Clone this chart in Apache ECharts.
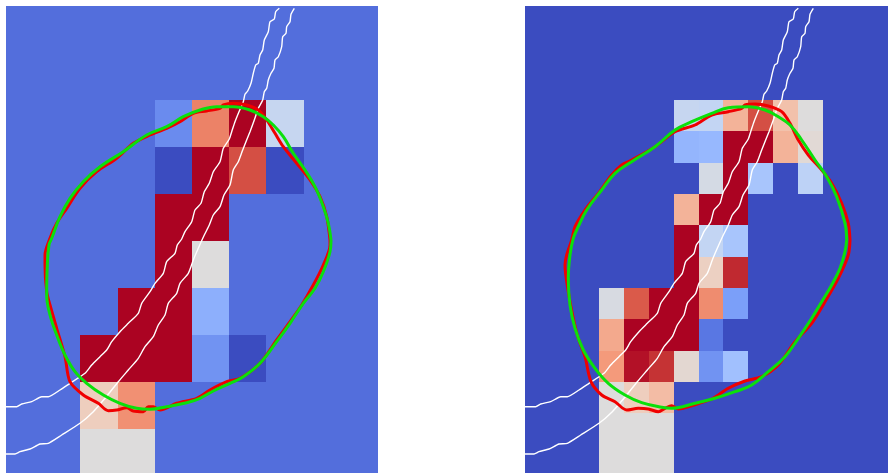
<!DOCTYPE html>
<html>
<head>
<meta charset="utf-8">
<style>
  html, body { margin: 0; padding: 0; background: #fff; overflow: hidden; }
  #chart { width: 888px; height: 473px; }
</style>
<script src="https://cdn.jsdelivr.net/npm/echarts@6/dist/echarts.min.js"></script>
</head>
<body>
<div id="chart"></div>
<script>
  // cell values, one list per row, top row first
  var leftCells = [
    [.08, .08, .08, .08, .08, .08, .08, .08, .08, .08],
    [.08, .08, .08, .08, .08, .08, .08, .08, .08, .08],
    [.08, .08, .08, .08, .15, .75, 1, .42, .08, .08],
    [.08, .08, .08, .08, 0, 1, .85, 0, .08, .08],
    [.08, .08, .08, .08, 1, 1, .08, .08, .08, .08],
    [.08, .08, .08, .08, 1, .5, .08, .08, .08, .08],
    [.08, .08, .08, 1, 1, .25, .08, .08, .08, .08],
    [.08, .08, 1, 1, 1, .17, 0, .08, .08, .08],
    [.08, .08, .58, .72, .08, .08, .08, .08, .08, .08],
    [.08, .08, .5, .5, .08, .08, .08, .08, .08, .08]
  ];
  var rightCells = [
    [0, 0, 0, 0, 0, 0, 0, 0, 0, 0, 0, 0, 0, 0, 0],
    [0, 0, 0, 0, 0, 0, 0, 0, 0, 0, 0, 0, 0, 0, 0],
    [0, 0, 0, 0, 0, 0, 0, 0, 0, 0, 0, 0, 0, 0, 0],
    [0, 0, 0, 0, 0, 0, .42, .41, .65, .85, .62, .5, 0, 0, 0],
    [0, 0, 0, 0, 0, 0, .27, .28, 1, 1, .65, .52, 0, 0, 0],
    [0, 0, 0, 0, 0, 0, 0, .47, 1, .33, 0, .39, 0, 0, 0],
    [0, 0, 0, 0, 0, 0, .65, 1, 1, 0, 0, 0, 0, 0, 0],
    [0, 0, 0, 0, 0, 0, 1, .41, .33, 0, 0, 0, 0, 0, 0],
    [0, 0, 0, 0, 0, 0, 1, .57, .92, 0, 0, 0, 0, 0, 0],
    [0, 0, 0, .48, .83, 1, 1, .73, .2, 0, 0, 0, 0, 0, 0],
    [0, 0, 0, .67, 1, 1, 1, .1, 0, 0, 0, 0, 0, 0, 0],
    [0, 0, 0, .7, .97, .9, .53, .17, .31, 0, 0, 0, 0, 0, 0],
    [0, 0, 0, .5, .58, .63, 0, 0, 0, 0, 0, 0, 0, 0, 0],
    [0, 0, 0, .5, .5, .5, 0, 0, 0, 0, 0, 0, 0, 0, 0],
    [0, 0, 0, .5, .5, .5, 0, 0, 0, 0, 0, 0, 0, 0, 0]
  ];

  // contours and the two white tracks, in panel units
  var leftRed = [[324,234],[320.7,210.7],[314,190.7],[304,174],[290.7,157.3],[277.3,140.7],[269,127.3],[260.7,114],[252.3,104],[240.7,99],[227.3,97.3],[217.3,99],[214,102.3],[200.7,105],[187.3,107.3],[174,115.7],[160.7,122.3],[144,129],[127.3,137.3],[110.7,152.3],[90.7,165.7],[74,182.3],[60.7,202.3],[50.7,217.3],[44,232.3],[39,249],[39,259],[40.7,285.7],[44,299],[50.7,322.3],[59,350.7],[64,375.7],[77.3,389],[92.3,397.3],[102.3,404.7],[110.7,404],[120.7,401.7],[127.3,405],[137.3,405.7],[142.3,400.7],[147.3,400.7],[154,404],[170.7,397.3],[190.7,392.3],[204,384],[220.7,375.7],[234,372.3],[254,357.3],[270.7,334],[284,315.7],[295.7,299],[307.3,279],[317.3,259],[324,239],[324,234]];
  var leftGreen = [[325,234],[322.3,217.3],[317.3,200.7],[309,180.7],[299,164],[287.3,147.3],[277.3,130.7],[267.3,119],[257.3,110.7],[244,104],[227.3,100.7],[210.7,100.7],[194,104],[177.3,110.7],[160.7,120.7],[140.7,129],[117.3,145.7],[94,160.7],[77.3,175.7],[64,192.3],[54,210.7],[45.7,232.3],[43,239],[41.3,259],[40.7,289],[44,309],[50.7,329],[59,349],[69,365.7],[80.7,377.3],[97.3,389],[114,397.3],[130.7,402.3],[144,403.3],[160.7,400.7],[180.7,396.7],[194,392.3],[207.3,385],[224,377.3],[237.3,370.7],[254,357.3],[270.7,335.7],[284,317.3],[297.3,297.3],[309,282.3],[317.3,265.7],[324,245.7],[325,234]];
  var rightRed = [[325,234],[323.3,217.3],[316.7,197.3],[306.7,177.3],[296.7,164],[283.3,149],[273.3,134],[265,117.3],[256.7,105.7],[243.3,100],[230,98],[220,99],[216.7,102.3],[203.3,105.7],[186.7,109],[170,119],[150,125.7],[130,140.7],[106.7,154],[96.7,159],[86.7,169],[73.3,187.3],[60,204],[50,220.7],[46.7,234],[41.7,249],[40,259],[43.3,285.7],[48.3,312.3],[53.3,332.3],[60,350.7],[66,375.7],[76.7,389],[90,395.7],[101.7,404],[113.3,402.3],[123.3,403],[133.3,405.7],[140,402.3],[146.7,399.7],[153.3,403],[166.7,399.7],[186.7,393],[203.3,382.3],[220,375],[236.7,370.7],[253.3,359],[270,335.7],[286.7,317.3],[300,295.7],[313.3,272.3],[323.3,249],[325,234]];
  var rightGreen = [[321.7,234],[320,217.3],[311.7,190.7],[301.7,170.7],[290,154],[276.7,134],[265,119],[253.3,110.7],[240,104],[223.3,100.7],[203.3,101.7],[186.7,107.3],[166.7,115.7],[150,124],[130,140.7],[106.7,155.7],[90,167.3],[76.7,184],[61.7,204],[53.3,220.7],[48.3,232.3],[45,249],[43.3,272.3],[45,299],[50,322.3],[58.3,344],[70,362.3],[83.3,377.3],[100,389],[116.7,396.7],[136.7,401.3],[146.7,402.3],[170,397.3],[190,392.3],[210,385.7],[226.7,379],[243.3,365.7],[260,350.7],[273.3,332.3],[286.7,312.3],[296.7,295.7],[306.7,279],[315,262.3],[320,245.7],[321.7,234]];
  var whiteA = [[273.3,2.3],[269.7,5.7],[268.3,13],[264,15.7],[262.3,25.7],[258.3,34],[256.7,44],[254,49],[252.3,57.3],[249.7,59],[247.3,67.3],[245,77.3],[241.7,85],[239,88.3],[237.3,95.7],[233,105.7],[229,115.7],[225.7,125.7],[223.3,133],[217.3,142.3],[214,155.7],[207.3,165.7],[203.3,177.3],[198.3,185.7],[195,197.3],[189,204],[185.7,215.7],[179,225.7],[175.7,233],[171.3,239],[169,247.3],[160.7,255.7],[157.3,267.3],[149,277.3],[144,285.7],[135.7,297.3],[132.3,307.3],[122.3,317.3],[114,325.7],[105.7,335.7],[100.7,344],[94,350.7],[85.7,359],[79,367.3],[64,377.3],[54,384],[42.3,390.7],[35.7,390.7],[25.7,395.7],[15.7,398],[10.7,400.7],[0,400.7]];
  var whiteB = [[288.3,2.3],[285,8.3],[284,15.7],[280.7,20.7],[280,27.3],[276.7,30.7],[275.7,40.7],[272.3,50.7],[269,54],[268,62.3],[265,67.3],[262.3,74],[260.7,82.3],[258.3,85.7],[256.7,94],[252.3,102.3],[248.3,114],[244,125.7],[236.7,144],[232.3,155.7],[227.3,164],[224,179],[218,189],[214,200.7],[207.3,209],[203.3,219],[198.3,229],[192.3,242.3],[187.3,254],[182.3,267.3],[174,277.3],[170.7,287.3],[162.3,297.3],[159,309],[152.3,319],[147.3,330.7],[139,340.7],[132.3,352.3],[122.3,364],[112.3,375.7],[99,392.3],[87.3,405.7],[74,417.3],[55.7,429],[42.3,437.3],[34,438],[24,443],[14,445.7],[9,448],[0,448]];

  var coolwarm = ['#3b4cc0', '#5977e3', '#7b9ff9', '#9ebeff', '#c0d4f5', '#dddcdc', '#f2cbb7', '#f49a7b', '#e36a53', '#c53334', '#ab0322'];

  // full panel size; the window cuts off the bottom and the right panel's edge
  var panelW = 372;
  var panelH = 470;
  var shownH = 467;
  var shownRightW = 363;

  function cellData(rows) {
    var out = [];
    rows.forEach(function (row, r) {
      row.forEach(function (v, c) {
        out.push([c, r, v]);
      });
    });
    return out;
  }

  function valX(grid, w) {
    return { type: 'value', gridIndex: grid, min: 0, max: w, show: false };
  }
  function valY(grid) {
    return { type: 'value', gridIndex: grid, min: 0, max: shownH, inverse: true, show: false };
  }

  // cell edges are rounded so that neighbours share a pixel and leave no seam
  function heat(rows, axis) {
    var w = panelW / rows[0].length;
    var h = panelH / rows.length;
    return {
      type: 'custom',
      xAxisIndex: axis,
      yAxisIndex: axis,
      data: cellData(rows),
      z: 1,
      renderItem: function (params, api) {
        var a = api.coord([api.value(0) * w, api.value(1) * h]);
        var b = api.coord([(api.value(0) + 1) * w, (api.value(1) + 1) * h]);
        var x = Math.round(a[0]);
        var y = Math.round(a[1]);
        return {
          type: 'rect',
          shape: { x: x, y: y, width: Math.round(b[0]) - x, height: Math.round(b[1]) - y },
          style: { fill: api.visual('color') }
        };
      }
    };
  }

  function line(points, color, width, axis, z, smooth) {
    return {
      type: 'line',
      xAxisIndex: axis,
      yAxisIndex: axis,
      data: points,
      symbol: 'none',
      smooth: smooth,
      z: z,
      lineStyle: { color: color, width: width }
    };
  }

  var myChart = echarts.init(document.getElementById('chart'));
  myChart.setOption({
    animation: false,
    backgroundColor: '#fff',
    grid: [
      { left: 6, top: 6, width: panelW, height: shownH },
      { left: 525, top: 6, width: shownRightW, height: shownH }
    ],
    xAxis: [valX(0, panelW), valX(1, shownRightW)],
    yAxis: [valY(0), valY(1)],
    visualMap: {
      show: false,
      min: 0,
      max: 1,
      dimension: 2,
      seriesIndex: [0, 1],
      inRange: { color: coolwarm }
    },
    series: [
      heat(leftCells, 0),
      heat(rightCells, 1),
      line(whiteA, '#fff', 1.4, 0, 3, 0.2),
      line(whiteB, '#fff', 1.4, 0, 3, 0.2),
      line(leftRed, '#f00000', 3, 0, 4, 0.3),
      line(leftGreen, '#0be00b', 3, 0, 5, 0.4),
      line(whiteA, '#fff', 1.4, 1, 3, 0.2),
      line(whiteB, '#fff', 1.4, 1, 3, 0.2),
      line(rightRed, '#f00000', 3, 1, 4, 0.3),
      line(rightGreen, '#0be00b', 3, 1, 5, 0.4)
    ]
  });
</script>
</body>
</html>
